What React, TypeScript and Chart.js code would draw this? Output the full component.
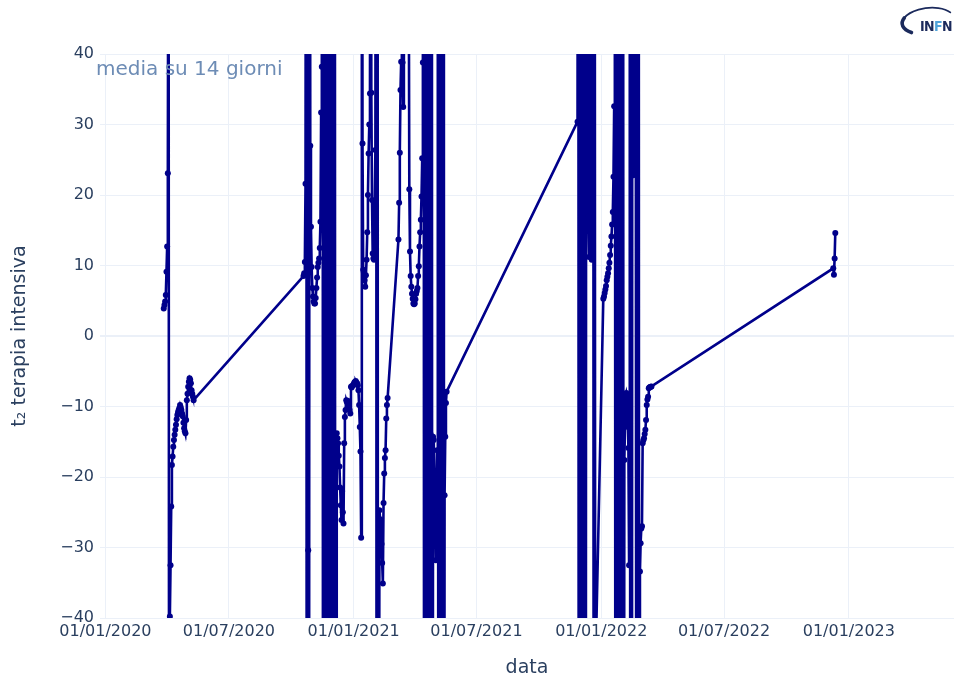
import { useEffect, useRef } from "react";
import { Chart, registerables } from "chart.js";

Chart.register(...registerables);

// ---- data (daily 14-day-average doubling time; |values| > 40 are off-scale) ----
const wave1Start = "2020-03-27";
const wave1Values = [
  3.9, 4.4, 4.9, 5.8, 9.1, 12.7, 23.1, 85, -95, -39.8, -32.5, -24.2, -18.3, -17.1, -15.7,
  -14.75, -14.0, -13.3, -12.6, -11.8, -11.2, -10.8, -10.5, -10.2, -9.8, -10.1, -10.5, -11.0,
  -11.4, -12.3, -13.1, -13.5, -13.8, -11.9, -9.1, -8.2, -7.2, -6.5, -6.0, -6.2, -6.7, -7.7,
  -8.2, -8.6, -9.1,
];

const wave2Start = "2020-10-19";
const wave2Values = [
  8.5, 8.9, 10.5, 21.6, 150, -150, 150, -30.4, -150, 150, 27.0, 15.5, 9.8, 6.8, 5.6, 4.9,
  4.6, 4.6, 5.4, 6.8, 8.3, 9.8, 10.4, 11.0, 12.5, 16.2, 31.7, 38.2, 150, -150, 150, 160, 150,
  -150, 150, -150, 150, -150, 150, -150, 150, -150, 150, -150, 150, -150, 150, -150, -150,
  -13.8, -14.5, -15.2, -17.0, -18.5, -21.5, -24.0, -26.1, -22.0, -25.0, -26.6, -15.2, -11.5,
  -10.5, -9.1, -9.4, -9.2, -9.3, -10.0, -10.5, -11.0, -7.2, -7.3, -7.1, -7.0, -6.8, -6.6,
  -6.5, -6.4, -6.6, -6.7, -7.0, -7.7, -9.8, -12.9, -16.4, -28.6, 150, 27.3, 9.4, 9.0, 7.9,
  7.0, 8.6, 10.8, 14.7, 20.0, 25.9, 30.0, 34.4, 120, 34.5, 19.3, 11.7, 11.0, 10.8, 18.0, 26.4,
  150, -150, 150, -150, -150, -24.7, -26.0, -27.5, -29.5, -32.2, -35.1, -23.7, -19.5, -17.3,
  -16.2, -11.7, -9.8, -8.8,
];

const wave3Start = "2021-03-08";
const wave3Values = [
  13.7, 18.9, 26.0, 34.9, 38.9, 70, 38.8, 32.5, 70, 85, 95, 110, 100, 90, 80, 60, 20.8, 12.0,
  8.5, 7.0, 6.0, 5.3, 4.6, 4.5, 4.6, 5.2, 6.0, 6.4, 6.8, 8.5, 9.9, 12.7, 14.7, 16.5, 19.8,
  25.2, 38.8, 150, -150, 150, -150, 150, -150, 150, -150, 150, -150, 150, -150, 150, -150,
  -14.3, -14.75, -19.5, -25.6, -31.8, -24.9, -16.2, 150, -150, 150, -150, 150, -150, 150,
  -150, 150, -150, -22.6, -14.3, -9.5, -7.9,
];

const wave4Start = "2021-11-27";
const wave4Values = [
  30.4, 150, -150, 150, -150, 150, -150, 150, -150, 150, -150, 150, -150, 150, 150, 150,
  16.9, 11.2, 28.3, 38.0, 150, 10.8, 18.8, 150, -150, 150, -49,
];

const wave5Start = "2022-01-04";
const wave5Values = [
  5.3, 5.6, 6.1, 6.6, 7.1, 7.9, 8.4, 8.9, 9.6, 10.4, 11.5, 12.8, 14.1, 15.8, 17.6, 22.6, 32.6,
  150, -150, 150, -150, 150, -150, 150, -150, 150, -150, 150, -150, 150, -150, -17.6, -12.9,
  -8.6, -8.1, -8.6, -11.0, -15.9, -32.5, 150, -150, 150, -150, 150, 22.8, 150, 32.8, 150, 23.8,
  -150, 150, -150, 150, -150, -33.4, -29.4, -27.3, -27.0, -15.2, -14.8, -14.5, -13.9, -13.3,
  -11.9, -9.8, -9.0, -8.6, -7.4, -7.3, -7.25, -7.2, -7.15,
];

const tailStart = "2022-12-09";
const tailValues = [9.6, 8.7, 11.0, 14.6];

const xTickDates = [
  "2020-01-01", "2020-07-01", "2021-01-01", "2021-07-01", "2022-01-01", "2022-07-01", "2023-01-01",
];
const xRangeDates = ["2019-12-24", "2023-06-05"];
const yTicks = [-40, -30, -20, -10, 0, 10, 20, 30, 40];

const annotationText = "media su 14 giorni";
const xTitle = "data";
const yTitle = "t\u2082 terapia intensiva";

// ---- helpers ----
const DAY = 86400000;
const EPOCH = Date.UTC(2020, 0, 1);
function dayIndex(s: string): number {
  const [y, m, d] = s.split("-").map(Number);
  return Math.round((Date.UTC(y, m - 1, d) - EPOCH) / DAY);
}
function fmtDate(s: string): string {
  const [y, m, d] = s.split("-");
  return `${d}/${m}/${y}`;
}

const FONT = "'DejaVu Sans', sans-serif";
const TEXT = "#2a3f5f";
const GRID = "#EBF0F8";
const LINE = "#00008b";

const overlayPlugin = {
  id: "overlay",
  afterDraw(chart: any) {
    const ctx = chart.ctx as CanvasRenderingContext2D;
    ctx.save();
    // annotation text
    ctx.font = `20px ${FONT}`;
    ctx.fillStyle = "#6d8cb5";
    ctx.textBaseline = "alphabetic";
    ctx.textAlign = "left";
    ctx.fillText(annotationText, 96, 75);

    // INFN logo
    ctx.strokeStyle = "#1b2a5c";
    ctx.lineCap = "round";
    ctx.beginPath();
    ctx.ellipse(928, 21, 26, 13, -0.12, Math.PI * 0.74, Math.PI * 1.15);
    ctx.lineWidth = 3.6;
    ctx.stroke();
    ctx.beginPath();
    ctx.ellipse(928, 21, 26, 13, -0.12, Math.PI * 1.15, Math.PI * 1.85);
    ctx.lineWidth = 1.8;
    ctx.stroke();
    ctx.font = `bold 14px 'DejaVu Sans Condensed', ${FONT}`;
    ctx.textBaseline = "alphabetic";
    const letters = [
      ["I", "#1b2a5c"],
      ["N", "#1b2a5c"],
      ["F", "#4fa3d9"],
      ["N", "#1b2a5c"],
    ];
    let lx = 920;
    for (const [ch, col] of letters) {
      ctx.fillStyle = col;
      ctx.fillText(ch, lx, 31);
      lx += ctx.measureText(ch).width - 0.6;
    }
    ctx.restore();
  },
};

export default function App() {
  const ref = useRef<HTMLCanvasElement | null>(null);

  useEffect(() => {
    document.body.style.margin = "0";
    const canvas = ref.current;
    if (!canvas) return;

    const segments: [string, number[]][] = [
      [wave1Start, wave1Values],
      [wave2Start, wave2Values],
      [wave3Start, wave3Values],
      [wave4Start, wave4Values],
      [wave5Start, wave5Values],
      [tailStart, tailValues],
    ];
    const points = segments.flatMap(([start, vals]) => {
      const d0 = dayIndex(start);
      return vals.map((v, i) => ({ x: d0 + i, y: v }));
    });
    const xTickValues = xTickDates.map(dayIndex);

    const chart = new Chart(canvas, {
      type: "line",
      data: {
        datasets: [
          {
            data: points,
            borderColor: LINE,
            backgroundColor: LINE,
            borderWidth: 2.6,
            pointRadius: 3,
            pointHoverRadius: 3,
            pointBorderWidth: 0,
            tension: 0,
            fill: false,
          },
        ],
      },
      options: {
        responsive: false,
        animation: false,
        events: [],
        layout: { padding: { top: 54, right: 0, bottom: 0, left: 0 } },
        plugins: { legend: { display: false }, tooltip: { enabled: false } },
        scales: {
          x: {
            type: "linear",
            min: dayIndex(xRangeDates[0]),
            max: dayIndex(xRangeDates[1]),
            afterBuildTicks: (scale: any) => {
              scale.ticks = xTickValues.map((v) => ({ value: v }));
            },
            afterFit: (scale: any) => {
              scale.height = 63;
            },
            ticks: {
              autoSkip: false,
              maxRotation: 0,
              padding: 4,
              color: TEXT,
              font: { family: FONT, size: 16 },
              callback: (_v: any, i: number) => fmtDate(xTickDates[i]),
            },
            grid: { color: GRID, lineWidth: 1, drawTicks: false },
            border: { display: false },
            title: {
              display: true,
              text: xTitle,
              color: TEXT,
              font: { family: FONT, size: 19 },
              padding: { top: 0, bottom: 2 },
            },
          },
          y: {
            type: "linear",
            min: -40,
            max: 40,
            afterBuildTicks: (scale: any) => {
              scale.ticks = yTicks.map((v) => ({ value: v }));
            },
            afterFit: (scale: any) => {
              scale.width = 100;
            },
            ticks: {
              padding: 6,
              color: TEXT,
              font: { family: FONT, size: 16 },
              callback: (v: any) => (Number(v) < 0 ? "\u2212" + Math.abs(Number(v)) : String(v)),
            },
            grid: {
              color: GRID,
              lineWidth: (c: any) => (c.tick && c.tick.value === 0 ? 2 : 1),
              drawTicks: false,
            },
            border: { display: false },
            title: {
              display: true,
              text: yTitle,
              color: TEXT,
              font: { family: FONT, size: 19 },
              padding: { top: 9, bottom: 0 },
            },
          },
        },
      },
      plugins: [overlayPlugin],
    });

    return () => chart.destroy();
  }, []);

  return (
    <div style={{ width: 957, height: 681, background: "#fff" }}>
      <canvas ref={ref} width={957} height={681} style={{ display: "block" }} />
    </div>
  );
}
